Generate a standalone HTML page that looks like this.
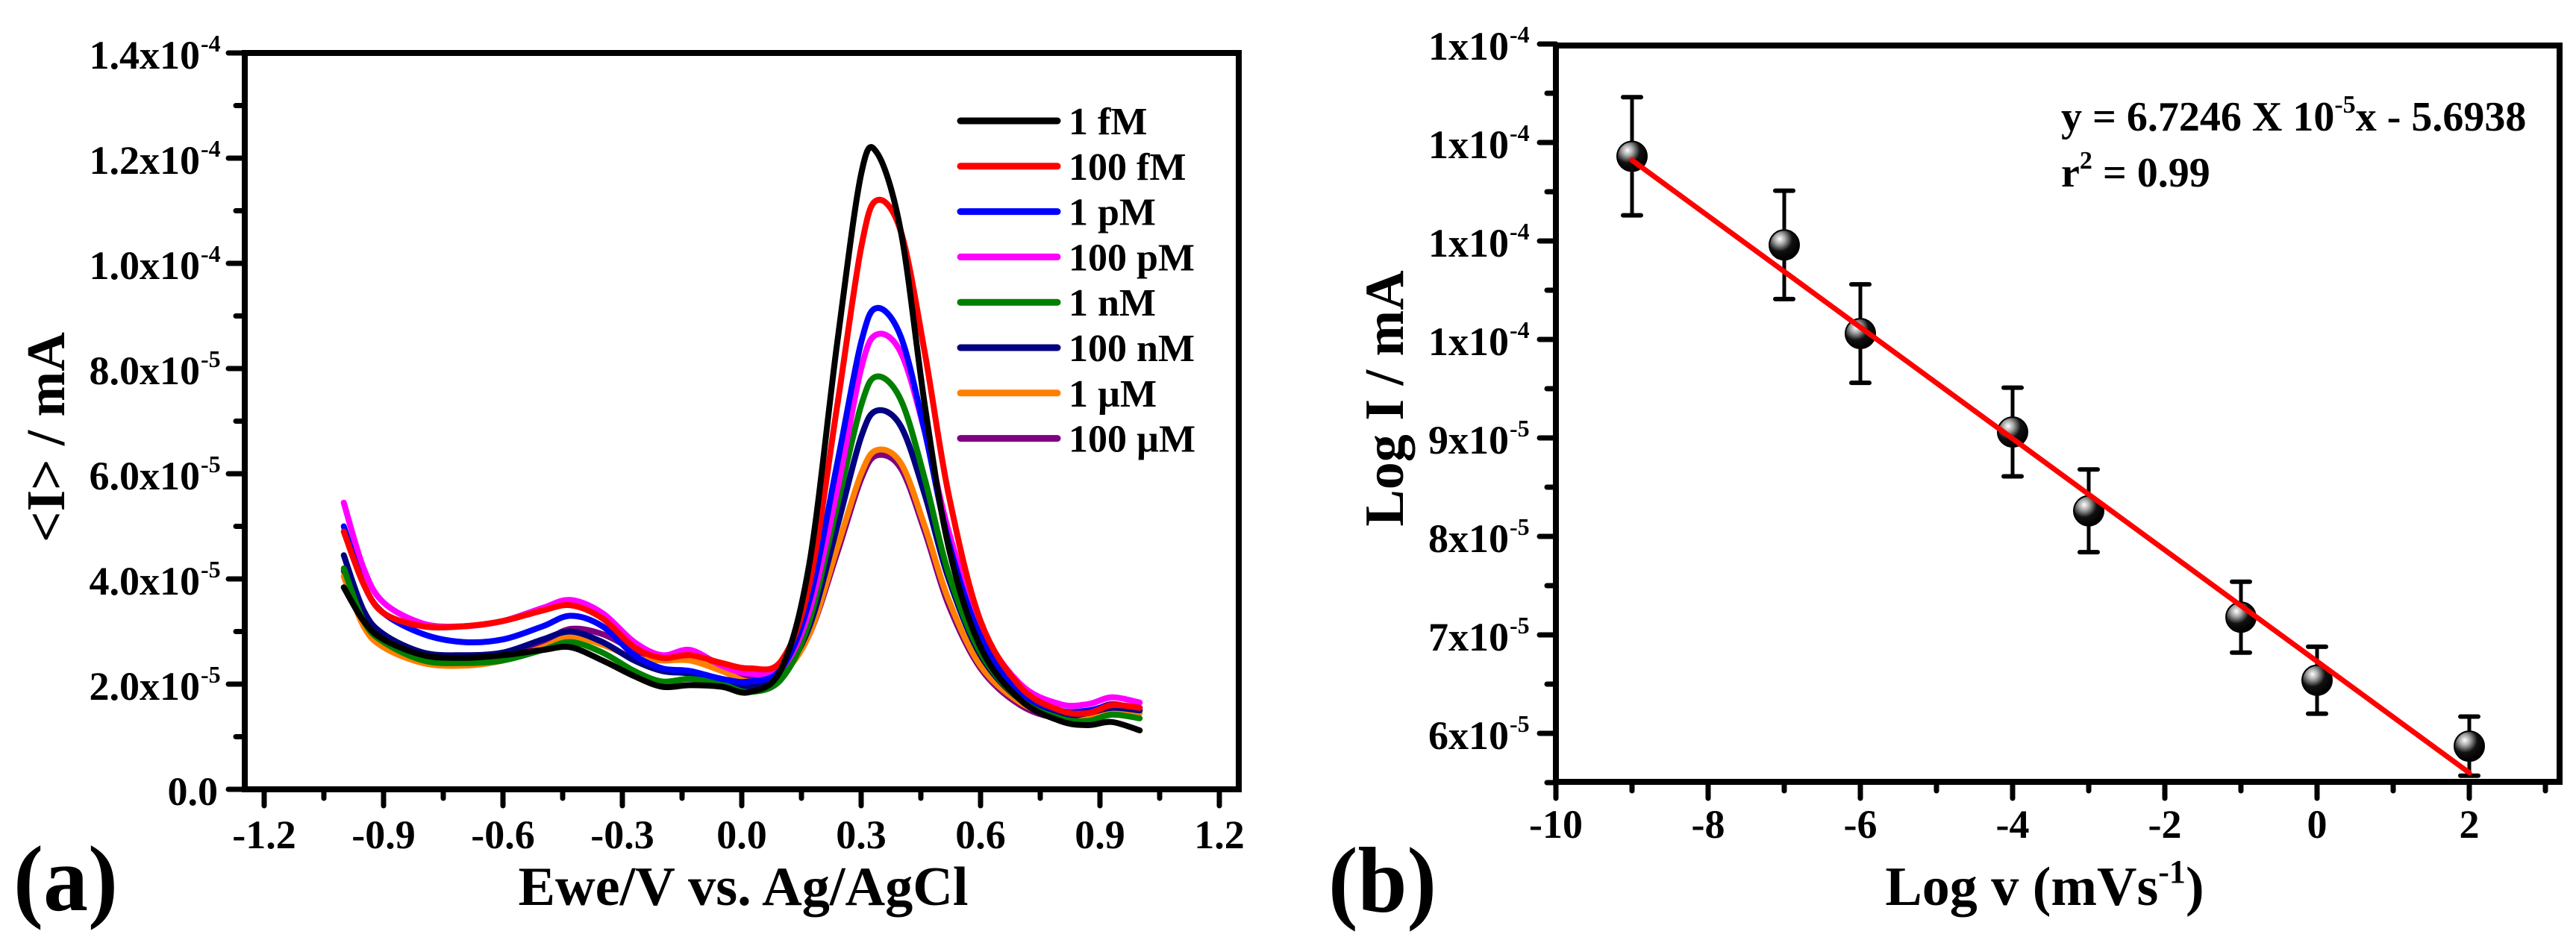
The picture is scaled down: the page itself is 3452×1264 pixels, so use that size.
<!DOCTYPE html>
<html><head><meta charset="utf-8"><style>
html,body{margin:0;padding:0;background:#fff;}
svg{display:block;}
text{font-family:"Liberation Serif",serif;font-weight:bold;fill:#000;}
</style></head><body>
<svg id="fig" width="3452" height="1264" viewBox="0 0 3452 1264" xmlns="http://www.w3.org/2000/svg">
<defs>
<radialGradient id="ball" cx="0.35" cy="0.3" r="0.7">
<stop offset="0" stop-color="#fff"/><stop offset="0.25" stop-color="#aaa"/><stop offset="0.6" stop-color="#111"/><stop offset="1" stop-color="#000"/>
</radialGradient>
</defs>
</svg>
<script>
// ---------- Panel (a) data ----------
const aX = [-1.0,-0.95,-0.9,-0.8,-0.7,-0.6,-0.5,-0.43,-0.35,-0.27,-0.2,-0.13,-0.05,0.02,0.1,0.17,0.24,0.3,0.34,0.4,0.46,0.52,0.6,0.7,0.8,0.87,0.93,1.0];
const aNames = ["1 fM","100 fM","1 pM","100 pM","1 nM","100 nM","1 µM","100 µM"];
const aColors = ["#000000","#ff0000","#0000ff","#ff00ff","#008000","#000080","#ff8000","#800080"];
const s1fM   = [3.84,3.2,2.85,2.55,2.5,2.55,2.65,2.7,2.45,2.15,1.95,1.98,1.95,1.85, 2.3,4.3,8.5,11.7,12.1,10.6,7.3,4.6,2.7,1.7,1.3,1.22,1.28,1.12];
const s100fM = [4.9,3.9,3.35,3.1,3.1,3.2,3.4,3.5,3.25,2.7,2.5,2.55,2.4,2.3, 2.45,3.9,7.3,10.3,11.2,10.6,8.3,5.6,3.2,1.95,1.5,1.45,1.6,1.55];
const s1pM   = [5.0,3.9,3.35,2.95,2.8,2.85,3.1,3.3,3.1,2.55,2.3,2.25,2.1,2.05, 2.3,3.6,6.2,8.5,9.15,8.6,6.8,4.7,2.9,1.85,1.5,1.5,1.6,1.55];
const s100pM = [5.45,4.2,3.55,3.15,3.1,3.2,3.45,3.6,3.35,2.8,2.55,2.65,2.35,2.2, 2.3,3.4,5.7,8.0,8.65,8.3,6.8,4.9,3.1,2.0,1.62,1.62,1.75,1.65];
const s1nM   = [4.2,3.2,2.8,2.45,2.4,2.45,2.65,2.8,2.6,2.25,2.05,2.1,2.0,1.85, 2.1,3.2,5.4,7.3,7.85,7.4,5.9,4.1,2.6,1.7,1.35,1.3,1.42,1.35];
const s100nM = [4.45,3.4,2.95,2.6,2.55,2.6,2.85,3.0,2.8,2.45,2.25,2.2,2.05,1.95, 2.2,3.1,5.0,6.7,7.2,6.9,5.6,4.0,2.55,1.7,1.4,1.45,1.55,1.5];
const s1uM   = [4.05,3.1,2.7,2.4,2.35,2.45,2.7,2.9,2.75,2.5,2.45,2.45,2.25,2.05, 2.2,2.95,4.6,6.0,6.45,6.2,5.0,3.6,2.35,1.65,1.38,1.4,1.52,1.45];
const s100uM = [4.15,3.2,2.75,2.42,2.38,2.5,2.8,3.05,2.95,2.65,2.5,2.6,2.35,2.15, 2.25,2.95,4.5,5.9,6.35,6.1,4.9,3.5,2.3,1.6,1.35,1.45,1.62,1.5];
const aSeries = [s1fM,s100fM,s1pM,s100pM,s1nM,s100nM,s1uM,s100uM];
const aXTicks = [-1.2,-0.9,-0.6,-0.3,0.0,0.3,0.6,0.9,1.2];
const aXTickLabels = ["-1.2","-0.9","-0.6","-0.3","0.0","0.3","0.6","0.9","1.2"];
const aYTicks = [0,2,4,6,8,10,12,14];
const aYTickLabels = ["0.0","2.0x10","4.0x10","6.0x10","8.0x10","1.0x10","1.2x10","1.4x10"];
const aYTickExp = ["","-5","-5","-5","-5","-4","-4","-4"];

// ---------- Panel (b) data ----------
const bX = [-9,-7,-6,-4,-3,-1,0,2];
const bY = [11.86,10.96,10.06,9.06,8.26,7.18,6.54,5.87];
const bErr = [0.6,0.55,0.5,0.45,0.42,0.36,0.34,0.3];
const bFitX = [-9,2];
const bFitY = [11.82,5.6];
const bXTicks = [-10,-8,-6,-4,-2,0,2];
const bXTickLabels = ["-10","-8","-6","-4","-2","0","2"];
const bYTicks = [6,7,8,9,10,11,12,13];
const bYTickLabels = ["6x10","7x10","8x10","9x10","1x10","1x10","1x10","1x10"];
const bYTickExp = ["-5","-5","-5","-5","-4","-4","-4","-4"];

const NS="http://www.w3.org/2000/svg";
const svg=document.getElementById('fig');
function mk(tag,attrs,parent){const e=document.createElementNS(NS,tag);for(const k in attrs)e.setAttribute(k,attrs[k]);(parent||svg).appendChild(e);return e;}

// scales
const aL=328,aR=1660,aT=71,aB=1058;
const ax=v=>354+(v+1.2)/0.3*160;
const ay=v=>aB-(v/14)*(aB-aT);
const bL=2085,bR=3430,bT=61,bB=1048;
const bx=v=>bL+(v+10)*102;
const by=v=>983-(v-6)*132;

function smoothPath(pts){
  let d="M"+pts[0][0].toFixed(1)+","+pts[0][1].toFixed(1);
  for(let i=0;i<pts.length-1;i++){
    const p0=pts[Math.max(0,i-1)],p1=pts[i],p2=pts[i+1],p3=pts[Math.min(pts.length-1,i+2)];
    const c1x=p1[0]+(p2[0]-p0[0])/6,c1y=p1[1]+(p2[1]-p0[1])/6;
    const c2x=p2[0]-(p3[0]-p1[0])/6,c2y=p2[1]-(p3[1]-p1[1])/6;
    d+=" C"+c1x.toFixed(1)+","+c1y.toFixed(1)+" "+c2x.toFixed(1)+","+c2y.toFixed(1)+" "+p2[0].toFixed(1)+","+p2[1].toFixed(1);
  }
  return d;
}

// ===== Panel A =====
const gA=mk('g',{});


const curvesA=mk('g',{},gA);


for(let s=aSeries.length-1;s>=0;s--){
  const pts=aX.map((x,i)=>[ax(x),ay(aSeries[s][i])]);
  const p=mk('path',{d:smoothPath(pts),fill:'none',stroke:aColors[s],'stroke-width':8,'stroke-linejoin':'round','stroke-linecap':'round'},curvesA);
  
  
}
// frame
const frA=mk('rect',{x:aL,y:aT,width:aR-aL,height:aB-aT,fill:'none',stroke:'#000','stroke-width':8},gA);


// x ticks
aXTicks.forEach((v,i)=>{
  mk('line',{x1:ax(v),y1:aB,x2:ax(v),y2:aB+22,stroke:'#000','stroke-width':7,'stroke-linecap':'round'},gA);
  if(i<aXTicks.length-1) mk('line',{x1:ax(v+0.15),y1:aB,x2:ax(v+0.15),y2:aB+12,stroke:'#000','stroke-width':7,'stroke-linecap':'round'},gA);
  const t=mk('text',{x:ax(v),y:1137,'font-size':54,'text-anchor':'middle'},gA);
  t.textContent=aXTickLabels[i];
  
  
});
// y ticks
aYTicks.forEach((v,i)=>{
  mk('line',{x1:aL-22,y1:ay(v),x2:aL,y2:ay(v),stroke:'#000','stroke-width':7,'stroke-linecap':'round'},gA);
  if(i<aYTicks.length-1) mk('line',{x1:aL-12,y1:ay(v+1),x2:aL,y2:ay(v+1),stroke:'#000','stroke-width':7,'stroke-linecap':'round'},gA);
  const t=mk('text',{x:aYTickExp[i]?268:292,y:ay(v)+21,'font-size':54,'text-anchor':'end'},gA);
  t.textContent=aYTickLabels[i];
  
  
  if(aYTickExp[i]){const e=mk('text',{x:269,y:ay(v)-2,'font-size':32},gA);e.textContent=aYTickExp[i];
    
    }
});
// legend
const legA=mk('g',{},gA);


aNames.forEach((n,i)=>{
  const y=162+i*60.8;
  const g=mk('g',{},legA);
  
  
  mk('line',{x1:1287,y1:y,x2:1417,y2:y,stroke:aColors[i],'stroke-width':9,'stroke-linecap':'round'},g);
  const t=mk('text',{x:1432,y:y+18,'font-size':52},g);t.textContent=n;
});
// titles
const ytA=mk('text',{x:0,y:0,'font-size':73,'text-anchor':'middle',transform:'translate(86,586) rotate(-90)'},gA);
ytA.textContent='<I> / mA';


const xtA=mk('text',{x:996,y:1213,'font-size':74,'text-anchor':'middle',textLength:603,lengthAdjust:'spacingAndGlyphs'},gA);
xtA.textContent='Ewe/V vs. Ag/AgCl';


const plA=mk('text',{x:18,y:1220,'font-size':125,textLength:140,lengthAdjust:'spacingAndGlyphs'},gA);
plA.textContent='(a)';



// ===== Panel B =====
const gB=mk('g',{});


const frB=mk('rect',{x:bL,y:bT,width:bR-bL,height:bB-bT,fill:'none',stroke:'#000','stroke-width':8},gB);


bXTicks.forEach((v,i)=>{
  mk('line',{x1:bx(v),y1:bB,x2:bx(v),y2:bB+22,stroke:'#000','stroke-width':7,'stroke-linecap':'round'},gB);
  mk('line',{x1:bx(v+1),y1:bB,x2:bx(v+1),y2:bB+12,stroke:'#000','stroke-width':7,'stroke-linecap':'round'},gB);
  const t=mk('text',{x:bx(v),y:1123,'font-size':54,'text-anchor':'middle'},gB);
  t.textContent=bXTickLabels[i];
  
  
});
bYTicks.forEach((v,i)=>{
  mk('line',{x1:bL-22,y1:by(v),x2:bL,y2:by(v),stroke:'#000','stroke-width':7,'stroke-linecap':'round'},gB);
  mk('line',{x1:bL-12,y1:by(v-0.5),x2:bL,y2:by(v-0.5),stroke:'#000','stroke-width':7,'stroke-linecap':'round'},gB);
  const t=mk('text',{x:2022,y:by(v)+21,'font-size':54,'text-anchor':'end'},gB);
  t.textContent=bYTickLabels[i];
  
  
  const e=mk('text',{x:2023,y:by(v)-2,'font-size':32},gB);e.textContent=bYTickExp[i];
  
  
});
// error bars
bX.forEach((x,i)=>{
  const g=mk('g',{},gB);
  
  
  const X=bx(x),t=by(bY[i]+bErr[i]),b=by(bY[i]-bErr[i]);
  mk('line',{x1:X,y1:t,x2:X,y2:b,stroke:'#000','stroke-width':5},g);
  mk('line',{x1:X-12,y1:t,x2:X+12,y2:t,stroke:'#000','stroke-width':6,'stroke-linecap':'round'},g);
  mk('line',{x1:X-12,y1:b,x2:X+12,y2:b,stroke:'#000','stroke-width':6,'stroke-linecap':'round'},g);
});
// points
bX.forEach((x,i)=>{
  const c=mk('circle',{cx:bx(x),cy:by(bY[i]),r:20,fill:'url(#ball)',stroke:'#000','stroke-width':2},gB);
  
  
});
// fit line
const fit=mk('line',{x1:bx(bFitX[0]),y1:by(bFitY[0]),x2:bx(bFitX[1]),y2:by(bFitY[1]),stroke:'#ff0000','stroke-width':7,'stroke-linecap':'round'},gB);


// equation
const eq=mk('text',{x:2762,y:175,'font-size':56},gB);


eq.innerHTML='y = 6.7246 X 10<tspan dy="-24" font-size="34">-5</tspan><tspan dy="24">x - 5.6938</tspan>';
const r2=mk('text',{x:2762,y:250,'font-size':56},gB);


r2.innerHTML='r<tspan dy="-24" font-size="34">2</tspan><tspan dy="24"> = 0.99</tspan>';
// titles
const ytB=mk('text',{x:0,y:0,'font-size':74,'text-anchor':'middle',transform:'translate(1880,534) rotate(-90)'},gB);
ytB.textContent='Log I / mA';


const xtB=mk('text',{x:2740,y:1213,'font-size':74,'text-anchor':'middle'},gB);


xtB.innerHTML='Log v (mVs<tspan dy="-30" font-size="44">-1</tspan><tspan dy="30">)</tspan>';
const plB=mk('text',{x:1780,y:1222,'font-size':125,textLength:145,lengthAdjust:'spacingAndGlyphs'},gB);
plB.textContent='(b)';


</script>
</body></html>
